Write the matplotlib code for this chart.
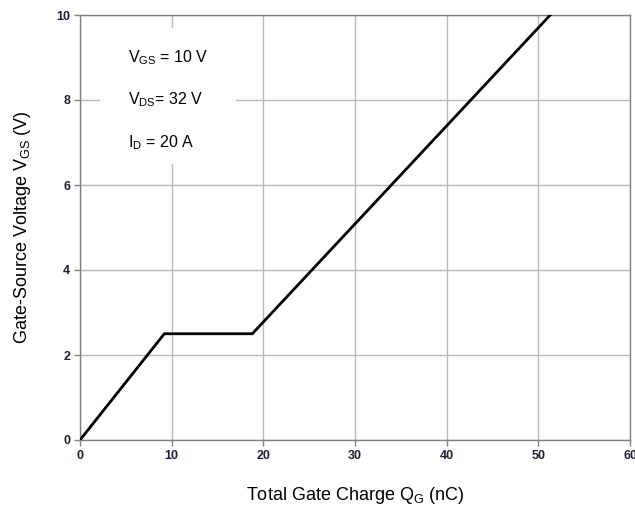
import matplotlib
matplotlib.use("Agg")
import matplotlib.pyplot as plt
from matplotlib.patches import Rectangle

# gate charge curve (nC, V)
qg = [0, 9.2, 18.8, 51.3]
vgs = [0, 2.5, 2.5, 10]

x_ticks = [0, 10, 20, 30, 40, 50, 60]
y_ticks = [0, 2, 4, 6, 8, 10]

cond_lines = [r"V$\mathregular{_{GS}}$ = 10 V",
              r"V$\mathregular{_{DS}}$= 32 V",
              r"I$\mathregular{_{D}}$ = 20 A"]

plt.rcParams['font.family'] = ['Liberation Sans', 'DejaVu Sans']
plt.rcParams['mathtext.fontset'] = 'custom'
plt.rcParams['mathtext.rm'] = 'Liberation Sans'

fig = plt.figure(figsize=(6.35, 5.08), dpi=100)
ax = fig.add_axes([80/635, 1 - 440/508, 550/635, 425/508])

ax.set_xlim(0, 60)
ax.set_ylim(0, 10)
ax.set_xticks(x_ticks)
ax.set_yticks(y_ticks)
ax.grid(True, color='#b8b8b8', linewidth=1.0)
ax.set_axisbelow(True)
for s in ax.spines.values():
    s.set_color('#808080')
    s.set_linewidth(1.0)
ax.tick_params(length=4, width=1, color='#808080', pad=3)
for lab in ax.get_xticklabels() + ax.get_yticklabels():
    lab.set_fontfamily(['Liberation Sans Narrow', 'Liberation Sans', 'DejaVu Sans'])
    lab.set_fontweight('bold')
    lab.set_fontsize(9)
    lab.set_color('#1f1f33')

# white patch behind the conditions text
ax.add_patch(Rectangle((2.2, 6.5), 14.8, 3.2, facecolor='white', edgecolor='none', zorder=1.5))

ax.plot(qg, vgs, color='black', linewidth=2.0, zorder=3)

for i, t in enumerate(cond_lines):
    ax.text(5.2, 9.0 - i * 1.0, t, fontsize=11.5, ha='left', va='center', zorder=4)

ax.set_xlabel(r"Total Gate Charge Q$\mathregular{_G}$ (nC)", fontsize=13, labelpad=17)
ax.set_ylabel(r"Gate-Source Voltage V$\mathregular{_{GS}}$ (V)", fontsize=13, labelpad=17)

fig.savefig("out.png", dpi=100)
